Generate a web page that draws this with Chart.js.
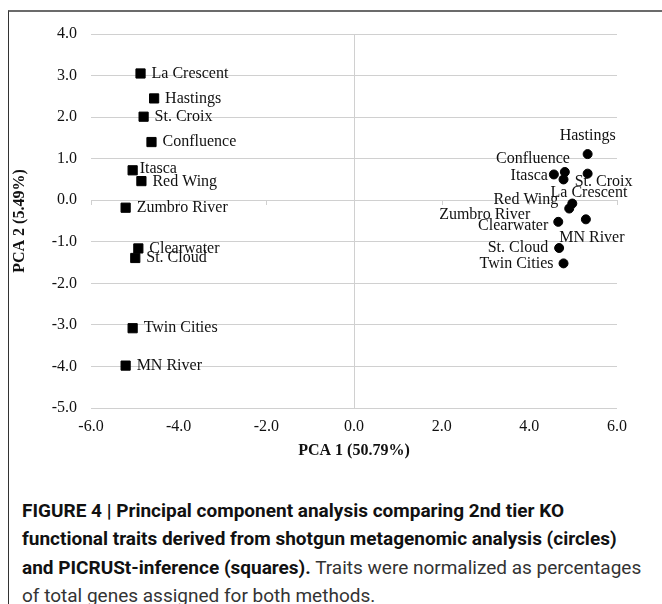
<!DOCTYPE html>
<html>
<head>
<meta charset="utf-8">
<script src="https://cdn.jsdelivr.net/npm/chart.js@4.4.1/dist/chart.umd.min.js"></script>
<style>
  html, body { margin: 0; padding: 0; background: #fff; }
  #frame { position: absolute; left: 8px; top: 10px; width: 654px; height: 594px;
           border-top: 2px solid #6b6b6b; border-left: 1px solid #333; box-sizing: border-box; }
  #chartBox { position: absolute; left: 0; top: 0; width: 662px; height: 480px; }
  #caption { position: absolute; left: 22px; top: 497px; font-family: Roboto, sans-serif;
             font-size: 19px; line-height: 28.3px; color: #333; white-space: nowrap; }
  #caption b { color: #111; }
</style>
</head>
<body>
<div id="frame"></div>
<div id="chartBox"><canvas id="pcaChart"></canvas></div>
<div id="caption"><b>FIGURE 4 | Principal component analysis comparing 2nd tier KO<br>functional traits derived from shotgun metagenomic analysis (circles)<br>and PICRUSt-inference (squares).</b> Traits were normalized as percentages<br>of total genes assigned for both methods.</div>
<script>
// sites, same order for both methods
const sites = ['La Crescent', 'Hastings', 'St. Croix', 'Confluence', 'Itasca', 'Red Wing',
               'Zumbro River', 'Clearwater', 'St. Cloud', 'Twin Cities', 'MN River'];

// shotgun metagenomics (circles)
const shotgunX = [4.78, 5.33, 5.33, 4.81, 4.56, 4.98, 4.91, 4.66, 4.68, 4.78, 5.29];
const shotgunY = [0.50, 1.11, 0.64, 0.68, 0.62, -0.08, -0.20, -0.52, -1.15, -1.52, -0.46];

// PICRUSt inference (squares)
const picrustX = [-4.87, -4.56, -4.80, -4.62, -5.05, -4.85, -5.21, -4.92, -4.99, -5.05, -5.21];
const picrustY = [3.05, 2.45, 2.01, 1.40, 0.72, 0.46, -0.18, -1.16, -1.39, -3.08, -3.98];

const xTicks = [-6, -4, -2, 0, 2, 4, 6];
const yTicks = [4, 3, 2, 1, 0, -1, -2, -3, -4, -5];

// where each label sits relative to its marker: [align, dx, dy]
const circleLabelPos = {
    'La Crescent': ['left', -13, 13],
    'Hastings': ['center', 0, -18],
    'St. Croix': ['left', -13, 8],
    'Confluence': ['right', 5, -13],
    'Itasca': ['right', -6, 1],
    'Red Wing': ['right', -14, -4],
    'Zumbro River': ['right', -39, 6],
    'Clearwater': ['right', -10, 4],
    'St. Cloud': ['right', -11, 0],
    'Twin Cities': ['right', -10, 0],
    'MN River': ['center', 6, 18]
};
const squareLabelPos = {
    'Itasca': ['left', 7, -2],
    'Red Wing': ['left', 11, 1]
};

const serif = '"Liberation Serif", "Times New Roman", serif';
const gridGray = '#d0d0d0';

// site names next to the markers
const siteLabels = {
    id: 'siteLabels',
    afterDatasetsDraw(chart) {
        const ctx = chart.ctx;
        ctx.save();
        ctx.font = '16px ' + serif;
        ctx.fillStyle = '#111';
        ctx.textBaseline = 'middle';
        chart.data.datasets.forEach((ds, di) => {
            chart.getDatasetMeta(di).data.forEach((pt, i) => {
                const pos = ds.labelPos[sites[i]] || ['left', 11, 0];
                ctx.textAlign = pos[0];
                ctx.fillText(sites[i], pt.x + pos[1], pt.y + pos[2]);
            });
        });
        ctx.restore();
    }
};

// small tick marks under the horizontal axis line at y = 0
const zeroAxisTicks = {
    id: 'zeroAxisTicks',
    beforeDatasetsDraw(chart) {
        const { ctx, scales: { x, y } } = chart;
        const y0 = Math.round(y.getPixelForValue(0));
        ctx.save();
        ctx.strokeStyle = gridGray;
        ctx.lineWidth = 1;
        xTicks.forEach(v => {
            const px = Math.round(x.getPixelForValue(v)) + 0.5;
            ctx.beginPath();
            ctx.moveTo(px, y0);
            ctx.lineTo(px, y0 + 5);
            ctx.stroke();
        });
        ctx.restore();
    }
};

const ctx = document.getElementById('pcaChart').getContext('2d');
new Chart(ctx, {
    type: 'scatter',
    data: {
        datasets: [{
            label: 'Shotgun metagenomics',
            data: sites.map((s, i) => ({ x: shotgunX[i], y: shotgunY[i] })),
            pointStyle: 'circle',
            pointRadius: 4.5,
            pointBorderWidth: 1,
            backgroundColor: '#000',
            borderColor: '#000',
            labelPos: circleLabelPos
        }, {
            label: 'PICRUSt',
            data: sites.map((s, i) => ({ x: picrustX[i], y: picrustY[i] })),
            pointStyle: 'rect',
            pointRadius: 6.5,
            pointBorderWidth: 1,
            backgroundColor: '#000',
            borderColor: '#000',
            labelPos: squareLabelPos
        }]
    },
    options: {
        responsive: true,
        maintainAspectRatio: false,
        animation: false,
        events: [],
        layout: { padding: { left: 6, top: 34, right: 45, bottom: 16 } },
        plugins: {
            legend: { display: false },
            tooltip: { enabled: false }
        },
        scales: {
            x: {
                type: 'linear',
                min: -6,
                max: 6,
                afterBuildTicks: scale => { scale.ticks = xTicks.map(v => ({ value: v })); },
                afterFit: scale => { scale.height = 56; },
                ticks: {
                    callback: v => v.toFixed(1),
                    font: { family: serif, size: 16 },
                    color: '#111',
                    padding: 9,
                    maxRotation: 0
                },
                grid: {
                    color: c => (c.tick && c.tick.value === 0) ? gridGray : 'rgba(0,0,0,0)',
                    drawTicks: false
                },
                border: { display: false },
                title: {
                    display: true,
                    text: 'PCA 1 (50.79%)',
                    font: { family: serif, size: 16, weight: 'bold' },
                    color: '#111',
                    padding: { top: 4, bottom: 4 }
                }
            },
            y: {
                type: 'linear',
                min: -5,
                max: 4,
                afterBuildTicks: scale => { scale.ticks = yTicks.map(v => ({ value: v })); },
                afterFit: scale => { scale.width = 85; },
                ticks: {
                    callback: v => v.toFixed(1),
                    font: { family: serif, size: 16 },
                    color: '#111',
                    padding: 14
                },
                grid: { color: gridGray, drawTicks: false },
                border: { display: false },
                title: {
                    display: true,
                    text: 'PCA 2 (5.49%)',
                    font: { family: serif, size: 16, weight: 'bold' },
                    color: '#111',
                    padding: { top: 4, bottom: 4 }
                }
            }
        }
    },
    plugins: [zeroAxisTicks, siteLabels]
});
</script>
</body>
</html>
